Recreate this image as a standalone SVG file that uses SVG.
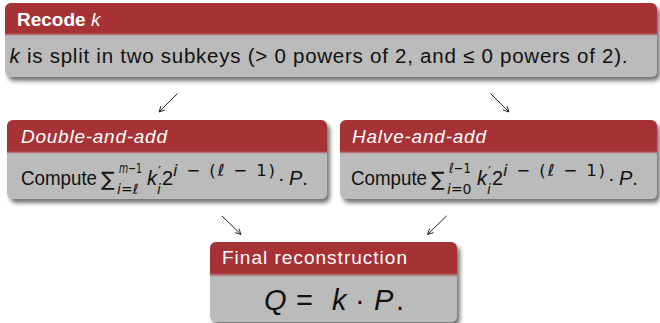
<svg xmlns="http://www.w3.org/2000/svg" width="660" height="323" viewBox="0 0 660 323">
<defs>
  <filter id="sh" x="-5%" y="-10%" width="115%" height="130%">
    <feGaussianBlur in="SourceAlpha" stdDeviation="2"/>
    <feOffset dx="3" dy="4" result="b"/>
    <feComponentTransfer><feFuncA type="linear" slope="0.55"/></feComponentTransfer>
    <feMerge><feMergeNode/><feMergeNode in="SourceGraphic"/></feMerge>
  </filter>
  <linearGradient id="tr" x1="0" y1="0" x2="0" y2="1">
    <stop offset="0" stop-color="#A63236"/>
    <stop offset="1" stop-color="#BBBBBB"/>
  </linearGradient>
  <marker id="ah" viewBox="0 0 10 10" refX="9" refY="5" markerWidth="7" markerHeight="7" markerUnits="userSpaceOnUse" orient="auto">
    <path d="M1,1 L9,5 L1,9" fill="none" stroke="#222" stroke-width="1.3"/>
  </marker>
</defs>
<style>
  .body { fill: #BBBBBB; }
  .title { fill: #A63236; }
  .tt { font-family: "Liberation Sans", Arial, sans-serif; font-size: 19px; fill: #FFFFFF; }
  .tx { font-family: "Liberation Sans", Arial, sans-serif; font-size: 20px; fill: #111111; }
  .tb { font-size: 20.5px; }
  .sc { font-family: "DejaVu Sans", "Liberation Sans", sans-serif; font-size: 14px; fill: #111111; }
  .sp { font-size: 16.5px; }
  .it { font-style: italic; }
  .sum { font-family: "DejaVu Sans", sans-serif; font-size: 20px; fill: #111111; }
  .big { font-family: "Liberation Sans", Arial, sans-serif; font-size: 29px; fill: #111111; }
  .arr { stroke: #222222; stroke-width: 1; fill: none; marker-end: url(#ah); }
</style>

<g id="connectors">
  <line class="arr" x1="177.5" y1="93.5" x2="159" y2="112"/>
  <line class="arr" x1="490.5" y1="93.5" x2="509" y2="112"/>
  <line class="arr" x1="222" y1="216" x2="241" y2="234.5"/>
  <line class="arr" x1="446.5" y1="216" x2="427.5" y2="234.5"/>
</g>

<g id="recode">
  <g filter="url(#sh)">
    <rect class="body" x="5" y="3" width="652" height="74" rx="6"/>
    <path class="title" d="M5,33 V9 A6,6 0 0 1 11,3 H651 A6,6 0 0 1 657,9 V33 Z"/>
    <rect x="5" y="33" width="652" height="3" fill="url(#tr)"/>
  </g>
  <text class="tt" x="17" y="26" font-weight="bold">Recode <tspan font-weight="normal" font-style="italic">k</tspan></text>
  <text class="tx tb" x="9.5" y="63" textLength="618" lengthAdjust="spacing"><tspan class="it">k</tspan> is split in two subkeys (&gt; 0 powers of 2, and ≤ 0 powers of 2).</text>
</g>

<g id="double-and-add">
  <g filter="url(#sh)">
    <rect class="body" x="7" y="120" width="320" height="79" rx="6"/>
    <path class="title" d="M7,151 V126 A6,6 0 0 1 13,120 H321 A6,6 0 0 1 327,126 V151 Z"/>
    <rect x="7" y="151" width="320" height="3" fill="url(#tr)"/>
  </g>
  <text class="tt it" x="21" y="143" textLength="146" lengthAdjust="spacing">Double-and-add</text>
  <text class="tx" x="21" y="185" textLength="76" lengthAdjust="spacingAndGlyphs">Compute</text>
  <text class="sum" x="101" y="186">∑</text>
  <text class="sc" x="119" y="173" textLength="23" lengthAdjust="spacingAndGlyphs"><tspan class="it">m</tspan>−1</text>
  <text class="sc" x="117" y="194"><tspan class="it">i</tspan>=<tspan class="it">ℓ</tspan></text>
  <text class="tx it" x="147" y="185">k</text>
  <text class="sc" x="158" y="176">′</text>
  <text class="sc it" x="157" y="194">i</text>
  <text class="tx" x="162" y="185">2</text>
  <text class="sc sp" x="173" y="176" textLength="102" lengthAdjust="spacing"><tspan class="it">i</tspan> − (<tspan class="it">ℓ</tspan> − 1)</text>
  <text class="tx" x="278" y="185">·</text>
  <text class="tx" x="289" y="185"><tspan class="it">P</tspan>.</text>
</g>

<g id="halve-and-add">
  <g filter="url(#sh)">
    <rect class="body" x="340" y="120" width="317" height="79" rx="6"/>
    <path class="title" d="M340,151 V126 A6,6 0 0 1 346,120 H651 A6,6 0 0 1 657,126 V151 Z"/>
    <rect x="340" y="151" width="317" height="3" fill="url(#tr)"/>
  </g>
  <text class="tt it" x="352" y="143" textLength="134" lengthAdjust="spacing">Halve-and-add</text>
  <text class="tx" x="351" y="185" textLength="76" lengthAdjust="spacingAndGlyphs">Compute</text>
  <text class="sum" x="431" y="186">∑</text>
  <text class="sc" x="449" y="173" textLength="22" lengthAdjust="spacingAndGlyphs"><tspan class="it">ℓ</tspan>−1</text>
  <text class="sc" x="447" y="194"><tspan class="it">i</tspan>=0</text>
  <text class="tx it" x="477" y="185">k</text>
  <text class="sc" x="488" y="176">′</text>
  <text class="sc it" x="487" y="194">i</text>
  <text class="tx" x="492" y="185">2</text>
  <text class="sc sp" x="503" y="176" textLength="102" lengthAdjust="spacing"><tspan class="it">i</tspan> − (<tspan class="it">ℓ</tspan> − 1)</text>
  <text class="tx" x="608" y="185">·</text>
  <text class="tx" x="619" y="185"><tspan class="it">P</tspan>.</text>
</g>

<g id="final-reconstruction">
  <g filter="url(#sh)">
    <rect class="body" x="210" y="242" width="247" height="80" rx="6"/>
    <path class="title" d="M210,273 V248 A6,6 0 0 1 216,242 H451 A6,6 0 0 1 457,248 V273 Z"/>
    <rect x="210" y="273" width="247" height="4" fill="url(#tr)"/>
  </g>
  <text class="tt" x="222" y="264" textLength="185" lengthAdjust="spacing">Final reconstruction</text>
  <text class="big it" x="264" y="310">Q</text>
  <text class="big" x="296" y="310">=</text>
  <text class="big it" x="332" y="310">k</text>
  <text class="big" x="355" y="310">·</text>
  <text class="big it" x="374" y="310">P</text>
  <text class="big" x="396" y="310">.</text>
</g>
</svg>
